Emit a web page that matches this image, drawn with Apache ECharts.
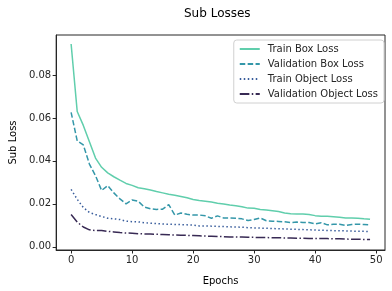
<!DOCTYPE html>
<html><head><meta charset="utf-8">
<script src="https://cdn.jsdelivr.net/npm/echarts@6/dist/echarts.min.js"></script>
<style>html,body{margin:0;padding:0;background:#fff}#c{width:392px;height:291px}</style>
</head><body><div id="c"></div>
<script>
const epochs = [0,1,2,3,4,5,6,7,8,9,10,11,12,13,14,15,16,17,18,19,20,21,22,23,24,25,26,27,28,29,30,31,32,33,34,35,36,37,38,39,40,41,42,43,44,45,46,47,48,49];
const trainBox = [0.0944,0.0630,0.0565,0.0489,0.0413,0.0370,0.0344,0.0326,0.0310,0.0295,0.0286,0.0275,0.0270,0.0264,0.0257,0.0251,0.0245,0.0240,0.0234,0.0228,0.0220,0.0215,0.0212,0.0208,0.0203,0.0199,0.0194,0.0191,0.0186,0.0180,0.0179,0.0174,0.0171,0.0168,0.0164,0.0157,0.0154,0.0153,0.0153,0.0150,0.0145,0.0142,0.0142,0.0140,0.0138,0.0134,0.0134,0.0133,0.0130,0.0128];
const valBox = [0.0626,0.0493,0.0474,0.0385,0.0331,0.0262,0.0285,0.0251,0.0223,0.0200,0.0218,0.0212,0.0185,0.0177,0.0174,0.0175,0.0196,0.0148,0.0157,0.0151,0.0148,0.0148,0.0144,0.0133,0.0144,0.0134,0.0134,0.0133,0.0130,0.0122,0.0127,0.0134,0.0121,0.0119,0.0118,0.0116,0.0113,0.0115,0.0113,0.0113,0.0107,0.0112,0.0102,0.0105,0.0105,0.0099,0.0104,0.0105,0.0104,0.0102];
const trainObj = [0.0267,0.0221,0.0183,0.0160,0.0150,0.0141,0.0133,0.0130,0.0127,0.0119,0.0117,0.0116,0.0112,0.0110,0.0108,0.0106,0.0105,0.0104,0.0103,0.0102,0.0101,0.0097,0.0097,0.0096,0.0095,0.0094,0.0093,0.0092,0.0091,0.0089,0.0088,0.0087,0.0086,0.0085,0.0084,0.0083,0.0082,0.0081,0.0080,0.0079,0.0078,0.0077,0.0076,0.0075,0.0075,0.0074,0.0073,0.0072,0.0072,0.0071];
const valObj = [0.0150,0.0115,0.0092,0.0079,0.0075,0.0076,0.0072,0.0069,0.0066,0.0064,0.0063,0.0061,0.0060,0.0059,0.0058,0.0057,0.0056,0.0055,0.0054,0.0053,0.0052,0.0051,0.0050,0.0049,0.0048,0.0047,0.0046,0.0046,0.0045,0.0044,0.0044,0.0043,0.0043,0.0042,0.0042,0.0041,0.0041,0.0040,0.0040,0.0039,0.0039,0.0038,0.0038,0.0037,0.0037,0.0036,0.0035,0.0035,0.0034,0.0034];
const xTicks = [0,10,20,30,40,50];
const yTicks = [0,0.02,0.04,0.06,0.08];
const seriesNames = ['Train Box Loss','Validation Box Loss','Train Object Loss','Validation Object Loss'];

const font = 'DejaVu Sans';
const colors = ['#60ceac','#3497a9','#395d9c','#382a54'];
const dashes = ['solid',[5.5,2.4],[1.5,2.5],[9.6,2.4,1.5,2.4]];
const allData = [trainBox, valBox, trainObj, valObj];

const chart = echarts.init(document.getElementById('c'), null, {renderer:'canvas'});
chart.setOption({
  animation:false,
  backgroundColor:'#fff',
  title:{text:'Sub Losses', left:179, top:3, textStyle:{fontFamily:font,fontSize:12,fontWeight:'normal',color:'#000'}},
  legend:{
    orient:'vertical', right:8, top:40,
    data:seriesNames,
    itemWidth:20, itemHeight:10, itemGap:5,
    padding:[4,6,4,5],
    borderColor:'#d0d0d0', borderWidth:1, borderRadius:3,
    backgroundColor:'rgba(255,255,255,0.8)',
    itemStyle:{opacity:0},
    textStyle:{fontFamily:font,fontSize:10,color:'#262626',padding:[0,0,0,3]}
  },
  grid:{left:50,right:7,top:35,bottom:38,show:true,borderColor:'#262626',borderWidth:1,containLabel:false},
  xAxis:{
    type:'value', min:-2.45, max:51.45,
    name:'Epochs', nameLocation:'middle', nameGap:26,
    nameTextStyle:{fontFamily:font,fontSize:10,color:'#000'},
    axisLine:{show:true,onZero:false,lineStyle:{color:'#262626',width:1}},
    axisTick:{show:true,length:3.5,lineStyle:{color:'#262626'},customValues:xTicks},
    axisLabel:{fontFamily:font,fontSize:10,color:'#262626',margin:5,customValues:xTicks},
    splitLine:{show:false}
  },
  yAxis:{
    type:'value', min:-0.0015, max:0.0986,
    name:'Sub Loss', nameLocation:'middle', nameGap:36, nameRotate:90,
    nameTextStyle:{fontFamily:font,fontSize:10,color:'#000'},
    axisLine:{show:true,onZero:false,lineStyle:{color:'#262626',width:1}},
    axisTick:{show:true,length:3.5,lineStyle:{color:'#262626'},customValues:yTicks},
    axisLabel:{fontFamily:font,fontSize:10,color:'#262626',margin:5,customValues:yTicks,formatter:v=>v.toFixed(2)},
    splitLine:{show:false}
  },
  series: seriesNames.map((n,i)=>({
    name:n, type:'line', showSymbol:false, symbol:'none',
    data: epochs.map((e,j)=>[e, allData[i][j]]),
    lineStyle:{color:colors[i], width:1.5, type:dashes[i]},
    itemStyle:{color:colors[i]}
  }))
});
</script></body></html>
